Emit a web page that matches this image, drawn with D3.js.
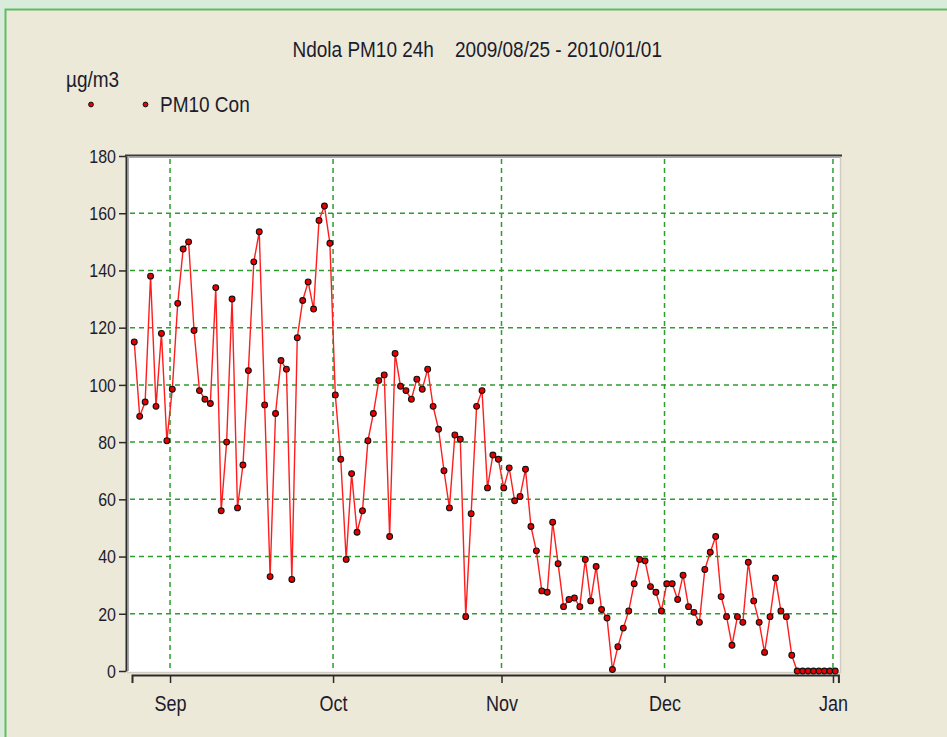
<!DOCTYPE html>
<html>
<head>
<meta charset="utf-8">
<script src="https://cdnjs.cloudflare.com/ajax/libs/d3/7.8.5/d3.min.js"></script>
<style>
body { margin: 0; padding: 0; background: #d9ecdc; overflow: hidden; }
text { font-family: "Liberation Sans", Arial, sans-serif; fill: #1c1c2c; }
</style>
</head>
<body>
<div id="pm10_figure"></div>
<script>
// chart values
const start_day = "2009-08-25"
const pm10_values = [
	115, 89, 94, 138, 92.5, 118, 80.5, 98.5, 128.5, 147.5,
	150, 119, 98, 95, 93.5, 134, 56, 80, 130, 57,
	72, 105, 143, 153.5, 93, 33, 90, 108.5, 105.5, 32,
	116.5, 129.5, 136, 126.5, 157.5, 162.5, 149.5, 96.5, 74, 39,
	69, 48.5, 56, 80.5, 90, 101.5, 103.5, 47, 111, 99.5,
	98, 95, 102, 98.5, 105.5, 92.5, 84.5, 70, 57, 82.5,
	81, 19, 55, 92.5, 98, 64, 75.5, 74, 64, 71,
	59.5, 61, 70.5, 50.5, 42, 28, 27.5, 52, 37.5, 22.5,
	25, 25.5, 22.5, 39, 24.5, 36.5, 21.5, 18.5, 0.5, 8.5,
	15, 21, 30.5, 39, 38.5, 29.5, 27.5, 21, 30.5, 30.5,
	25, 33.5, 22.5, 20.5, 17, 35.5, 41.5, 47, 26, 19,
	9, 19, 17, 38, 24.5, 17, 6.5, 19, 32.5, 21,
	19, 5.5, 0, 0, 0, 0, 0, 0, 0, 0
]
const y_tick_values = [0, 20, 40, 60, 80, 100, 120, 140, 160, 180]
const y_grid_values = [20, 40, 60, 80, 100, 120, 140, 160]
const title_text = "Ndola PM10 24h    2009/08/25 - 2010/01/01"
const unit_text = "\u00b5g/m3"
const legend_text = "PM10 Con"

const width = 947
const height = 737
const text_stretch = 1.18
const grid_color = "#2f9c2f"
const line_color = "#ff1e1e"

var parse_day = d3.timeParse("%Y-%m-%d")
var day0 = parse_day(start_day)
var pm10_data = pm10_values.map(function(v, i){
	return {date: d3.timeHour.offset(d3.timeDay.offset(day0, i), 10), value: v}
})

pm10_svg = d3.select("#pm10_figure")
	.append("svg")
	.attr("width", width)
	.attr("height", height)

// window background
pm10_svg.append("rect")
	.attr("x", 0).attr("y", 0)
	.attr("width", width).attr("height", height)
	.attr("fill", "#d9ecdc")
pm10_svg.append("rect")
	.attr("x", 6).attr("y", 10)
	.attr("width", width).attr("height", height)
	.attr("fill", "#ece9d8")
pm10_svg.append("path")
	.attr("d", "M5.5," + height + "V9.5H" + width)
	.attr("stroke", "#62bb62")
	.attr("stroke-width", 2)
	.attr("fill", "none")

// scales
var x = d3.scaleTime()
	.domain([day0, d3.timeDay.offset(day0, 130)])
	.range([132, 838.4])
var y = d3.scaleLinear()
	.domain([0, 180])
	.range([671, 156])

var plot_left = 127
var plot_right = 840

// plot area
pm10_svg.append("rect")
	.attr("x", plot_left)
	.attr("y", y(180))
	.attr("width", plot_right - plot_left)
	.attr("height", y(0) - y(180) + 1)
	.attr("fill", "#ffffff")

// grid
pm10_svg.selectAll(".hgrid")
	.data(y_grid_values)
	.enter().append("line")
	.attr("class", "hgrid")
	.attr("x1", plot_left + 3)
	.attr("x2", plot_right - 2)
	.attr("y1", function(d){ return y(d) })
	.attr("y2", function(d){ return y(d) })
	.attr("stroke", grid_color)
	.attr("stroke-width", 1.5)
	.attr("stroke-dasharray", "5,4")

var month_ticks = x.ticks(d3.timeMonth.every(1))
pm10_svg.selectAll(".vgrid")
	.data(month_ticks)
	.enter().append("line")
	.attr("class", "vgrid")
	.attr("x1", function(d){ return x(d) })
	.attr("x2", function(d){ return x(d) })
	.attr("y1", y(180) + 3)
	.attr("y2", y(0))
	.attr("stroke", grid_color)
	.attr("stroke-width", 1.5)
	.attr("stroke-dasharray", "5,4")

// frame of the plot
pm10_svg.append("path")
	.attr("d", "M" + (plot_left + 1.5) + "," + y(0) + "V" + (y(180) + 1.5) + "H" + plot_right)
	.attr("stroke", "#a8a8a8")
	.attr("stroke-width", 1)
	.attr("fill", "none")
pm10_svg.append("path")
	.attr("d", "M" + (plot_right + 0.5) + "," + (y(180) - 1) + "V" + (y(0) + 1.5) + "H" + plot_left)
	.attr("stroke", "#d0cdc0")
	.attr("stroke-width", 1.5)
	.attr("fill", "none")
pm10_svg.append("line")
	.attr("x1", plot_left - 2)
	.attr("x2", plot_right + 2)
	.attr("y1", y(180) - 0.5)
	.attr("y2", y(180) - 0.5)
	.attr("stroke", "#3a3a3a")
	.attr("stroke-width", 2)

// y axis
var y_axis = pm10_svg.append("g")
	.attr("transform", "translate(" + (plot_left - 1) + ",0)")
	.call(d3.axisLeft(y).tickValues(y_tick_values).tickSize(7).tickSizeOuter(0).tickPadding(3))
y_axis.select(".domain").attr("stroke", "#2a2a2a").attr("stroke-width", 2)
y_axis.selectAll(".tick line").attr("stroke", "#2a2a2a").attr("stroke-width", 1.5)
y_axis.selectAll(".tick text")
	.attr("font-size", 16)
	.attr("font-family", "Liberation Sans, Arial, sans-serif")
	.attr("fill", "#1c1c2c")
	.attr("dy", "0.33em")
	.attr("transform", "scale(1," + text_stretch + ")")

// x axis
var x_axis = pm10_svg.append("g")
	.attr("transform", "translate(0,675)")
	.call(d3.axisBottom(x).ticks(d3.timeMonth.every(1)).tickFormat(d3.timeFormat("%b")).tickSize(8).tickSizeOuter(8))
x_axis.select(".domain").attr("stroke", "#2a2a2a").attr("stroke-width", 2)
x_axis.selectAll(".tick line").attr("stroke", "#2a2a2a").attr("stroke-width", 1.5)
x_axis.selectAll(".tick text")
	.attr("font-size", 18)
	.attr("font-family", "Liberation Sans, Arial, sans-serif")
	.attr("fill", "#1c1c2c")
	.attr("y", 36.5 / text_stretch)
	.attr("dy", 0)
	.attr("transform", "scale(1," + text_stretch + ")")

// series
var pm10_line = d3.line()
	.x(function(d){ return x(d.date) })
	.y(function(d){ return y(d.value) })
pm10_svg.append("path")
	.datum(pm10_data)
	.attr("d", pm10_line)
	.attr("stroke", line_color)
	.attr("stroke-width", 1.4)
	.attr("fill", "none")
pm10_svg.selectAll(".pm10_dot")
	.data(pm10_data)
	.enter().append("circle")
	.attr("class", "pm10_dot")
	.attr("cx", function(d){ return x(d.date) })
	.attr("cy", function(d){ return y(d.value) })
	.attr("r", 2.9)
	.attr("fill", "#e80000")
	.attr("stroke", "#111111")
	.attr("stroke-width", 1.1)

// texts
function add_text(tx, ty, str, size, anchor){
	pm10_svg.append("text")
		.attr("transform", "translate(" + tx + "," + ty + ") scale(1," + text_stretch + ")")
		.attr("font-size", size)
		.attr("text-anchor", anchor)
		.style("white-space", "pre")
		.text(str)
}
add_text(292.5, 57, title_text, 19, "start")
add_text(66, 87, unit_text, 19, "start")
add_text(160, 112, legend_text, 19, "start")

var legend_dots = [91, 145.5]
pm10_svg.selectAll(".legend_dot")
	.data(legend_dots)
	.enter().append("circle")
	.attr("class", "legend_dot")
	.attr("cx", function(d){ return d })
	.attr("cy", 104.5)
	.attr("r", 2.4)
	.attr("fill", "#e80000")
	.attr("stroke", "#111111")
	.attr("stroke-width", 1)
</script>
</body>
</html>
